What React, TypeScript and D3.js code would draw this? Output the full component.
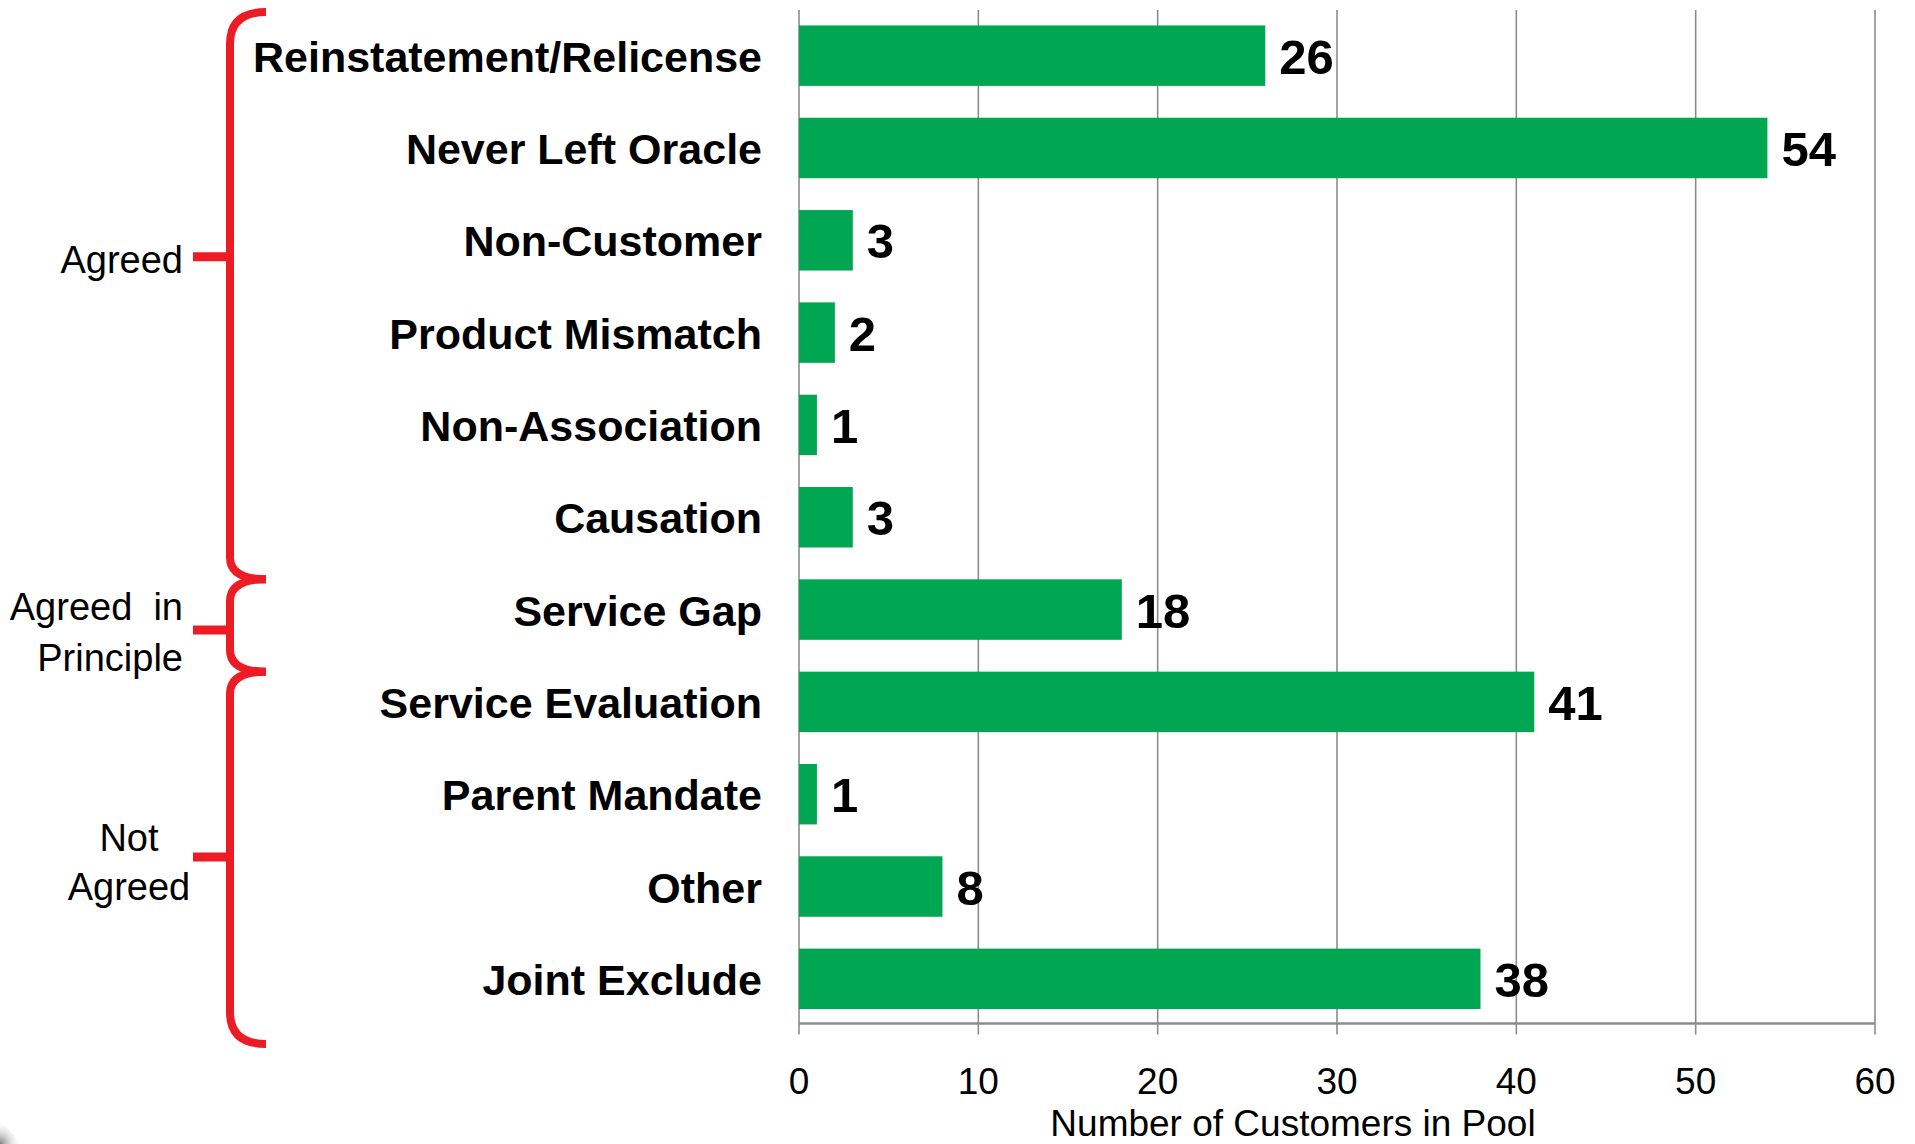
import React, { useRef, useEffect } from "react";
import * as d3 from "d3";

const categories = [
  "Reinstatement/Relicense",
  "Never Left Oracle",
  "Non-Customer",
  "Product Mismatch",
  "Non-Association",
  "Causation",
  "Service Gap",
  "Service Evaluation",
  "Parent Mandate",
  "Other",
  "Joint Exclude",
];
const counts = [26, 54, 3, 2, 1, 3, 18, 41, 1, 8, 38];
const xTicks = [0, 10, 20, 30, 40, 50, 60];
const axisTitle = "Number of Customers in Pool";

// bracket groups: label lines and first/last category index
const groupLines = [["Agreed"], ["Agreed  in", "Principle"], ["Not", "Agreed"]];
const groupFirst = [0, 6, 7];
const groupLast = [5, 6, 10];

const W = 1915;
const H = 1144;
const FONT = "'Liberation Sans', Arial, Helvetica, sans-serif";
const GREEN = "#00a651";
const RED = "#ed1c24";
const GRID = "#8c8c8c";

export default function App() {
  const svgRef = useRef<SVGSVGElement>(null);

  useEffect(() => {
    if (!svgRef.current) return;
    const svg = d3.select(svgRef.current);
    svg.selectAll("*").remove();

    const x = d3.scaleLinear().domain([0, 60]).range([799, 1875]);
    const y = d3
      .scaleBand<string>()
      .domain(categories)
      .range([9.5, 1025])
      .paddingInner(0.345)
      .paddingOuter(0.1725);
    const axisY = 1023.5;
    const gridTop = 10;

    // gridlines
    svg
      .append("g")
      .selectAll("line")
      .data(xTicks)
      .join("line")
      .attr("x1", (d) => x(d))
      .attr("x2", (d) => x(d))
      .attr("y1", gridTop)
      .attr("y2", axisY + 11)
      .attr("stroke", GRID)
      .attr("stroke-width", 1.6);

    // bars
    svg
      .append("g")
      .selectAll("rect")
      .data(categories)
      .join("rect")
      .attr("x", x(0))
      .attr("y", (d) => y(d) ?? 0)
      .attr("width", (_, i) => x(counts[i]) - x(0))
      .attr("height", y.bandwidth())
      .attr("fill", GREEN);

    // x axis line
    svg
      .append("line")
      .attr("x1", x(0))
      .attr("x2", x(60))
      .attr("y1", axisY)
      .attr("y2", axisY)
      .attr("stroke", GRID)
      .attr("stroke-width", 2.6);

    // tick labels
    svg
      .append("g")
      .selectAll("text")
      .data(xTicks)
      .join("text")
      .attr("x", (d) => x(d))
      .attr("y", 1093.5)
      .attr("text-anchor", "middle")
      .style("font-family", FONT)
      .style("font-size", "37px")
      .style("fill", "#000")
      .text((d) => d);

    svg
      .append("text")
      .attr("x", 1293)
      .attr("y", 1136)
      .attr("text-anchor", "middle")
      .style("font-family", FONT)
      .style("font-size", "37px")
      .style("fill", "#000")
      .text(axisTitle);

    // category labels
    svg
      .append("g")
      .selectAll("text")
      .data(categories)
      .join("text")
      .attr("x", x(0) - 37)
      .attr("y", (d) => (y(d) ?? 0) + y.bandwidth() / 2 + 16)
      .attr("text-anchor", "end")
      .style("font-family", FONT)
      .style("font-size", "43px")
      .style("font-weight", "bold")
      .style("fill", "#000")
      .text((d) => d);

    // value labels
    svg
      .append("g")
      .selectAll("text")
      .data(categories)
      .join("text")
      .attr("x", (_, i) => x(counts[i]) + 14)
      .attr("y", (d) => (y(d) ?? 0) + y.bandwidth() / 2 + 18)
      .style("font-family", FONT)
      .style("font-size", "49px")
      .style("font-weight", "bold")
      .style("fill", "#000")
      .text((_, i) => counts[i]);

    // brackets
    const x0 = 230;
    const x1 = 266;
    const stubY = [256.7, 630, 857];
    const tops = groupFirst.map((f, i) => (i === 0 ? 12 : y(categories[f]) ?? 0));
    const bottoms = groupLast.map((l, i) =>
      i === groupLast.length - 1 ? 1044 : y(categories[groupFirst[i + 1]]) ?? 0
    );
    const br = svg.append("g").attr("fill", "none").attr("stroke", RED);
    groupFirst.forEach((_, i) => {
      const t = tops[i];
      const b = bottoms[i];
      const rt = i === 0 ? 32 : 22;
      const rb = i === groupFirst.length - 1 ? 32 : 22;
      br.append("path")
        .attr("stroke-width", 8)
        .attr(
          "d",
          `M${x1},${t} Q${x0},${t} ${x0},${t + rt} L${x0},${b - rb} Q${x0},${b} ${x1},${b}`
        );
      br.append("line")
        .attr("stroke-width", 9)
        .attr("x1", 193)
        .attr("x2", x0)
        .attr("y1", stubY[i])
        .attr("y2", stubY[i]);
    });

    // group labels
    const labelAnchor = ["end", "end", "middle"];
    const labelX = [183, 183, 129];
    const labelDy = [[16], [-10, 40.5], [-6, 43]];
    groupLines.forEach((lines, i) => {
      lines.forEach((ln, j) => {
        svg
          .append("text")
          .attr("x", labelX[i])
          .attr("y", stubY[i] + labelDy[i][j])
          .attr("text-anchor", labelAnchor[i])
          .style("font-family", FONT)
          .style("font-size", "38px")
          .style("white-space", "pre")
          .style("fill", "#000")
          .text(ln);
      });
    });

    // slide shadow in bottom-left corner
    const defs = svg.append("defs");
    const grad = defs
      .append("radialGradient")
      .attr("id", "shadow")
      .attr("cx", "0")
      .attr("cy", "1")
      .attr("r", "1");
    grad.append("stop").attr("offset", "0").attr("stop-color", "#808080");
    grad.append("stop").attr("offset", "1").attr("stop-color", "#ffffff").attr("stop-opacity", 0);
    svg
      .append("path")
      .attr("d", `M0,${H - 24} L22,${H} L0,${H} Z`)
      .attr("fill", "url(#shadow)");
  }, []);

  return (
    <svg
      ref={svgRef}
      width={W}
      height={H}
      style={{ position: "absolute", left: 0, top: 0, background: "#fff" }}
    />
  );
}
